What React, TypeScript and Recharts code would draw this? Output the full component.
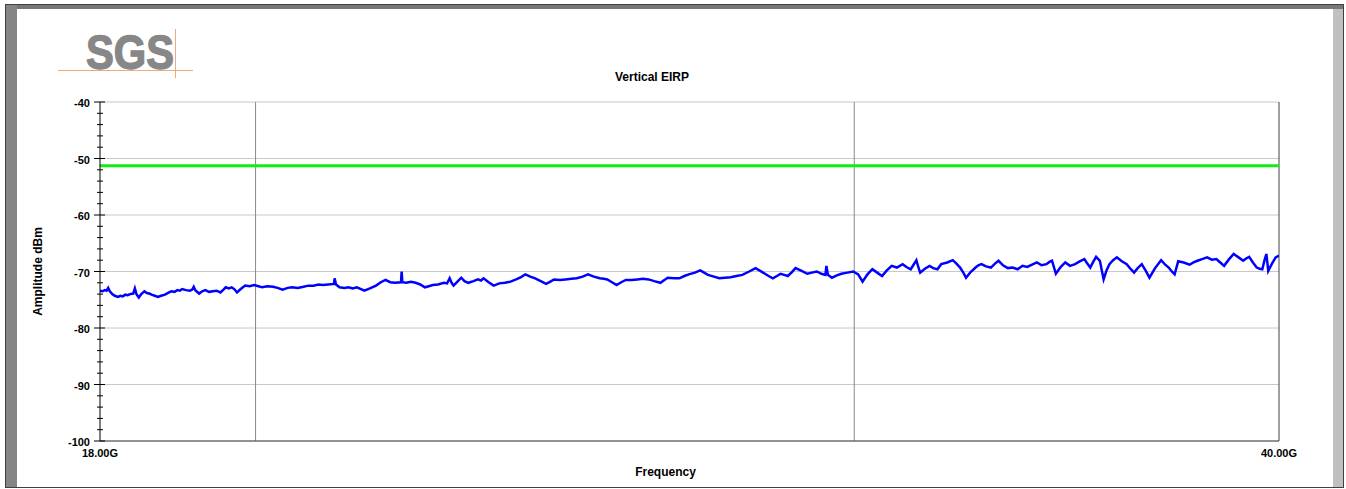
import { LineChart, Line, XAxis, YAxis, CartesianGrid, ReferenceLine } from "recharts";

// Measured sweep, 18 – 40 GHz (frequency in GHz)
const traceFreqs = [
  18.0, 18.03, 18.06, 18.08, 18.1, 18.12, 18.15, 18.18, 18.22, 18.25,
  18.28, 18.31, 18.34, 18.37, 18.41, 18.43, 18.45, 18.48, 18.51, 18.55,
  18.58, 18.61, 18.64, 18.68, 18.72, 18.76, 18.81, 18.85, 18.89, 18.93,
  18.97, 19.0, 19.03, 19.08, 19.13, 19.16, 19.18, 19.2, 19.25, 19.29,
  19.33, 19.38, 19.43, 19.48, 19.53, 19.57, 19.6, 19.64, 19.68, 19.72,
  19.75, 19.8, 19.86, 19.92, 19.98, 20.04, 20.09, 20.16, 20.24, 20.3,
  20.37, 20.44, 20.5, 20.58, 20.66, 20.73, 20.8, 20.87, 20.93, 21.01,
  21.09, 21.1, 21.12, 21.17, 21.24, 21.3, 21.36, 21.42, 21.48, 21.53,
  21.61, 21.7, 21.77, 21.84, 21.91, 21.98, 22.07, 22.08, 22.09, 22.15,
  22.22, 22.29, 22.36, 22.43, 22.49, 22.55, 22.63, 22.72, 22.77, 22.81,
  22.84, 22.87, 22.93, 22.99, 23.04, 23.1, 23.18, 23.25, 23.3, 23.34,
  23.42, 23.5, 23.59, 23.68, 23.77, 23.86, 23.94, 24.01, 24.09, 24.17,
  24.26, 24.35, 24.42, 24.48, 24.58, 24.67, 24.77, 24.86, 24.96, 25.05,
  25.15, 25.25, 25.32, 25.38, 25.46, 25.54, 25.62, 25.7, 25.8, 25.9,
  26.0, 26.1, 26.2, 26.31, 26.38, 26.44, 26.55, 26.65, 26.74, 26.82,
  26.93, 27.03, 27.1, 27.17, 27.28, 27.38, 27.48, 27.59, 27.7, 27.81,
  27.94, 28.06, 28.15, 28.24, 28.31, 28.39, 28.47, 28.54, 28.61, 28.68,
  28.76, 28.83, 28.95, 29.06, 29.15, 29.25, 29.34, 29.42, 29.44, 29.47,
  29.55, 29.65, 29.74, 29.86, 29.98, 30.08, 30.17, 30.27, 30.37, 30.47,
  30.57, 30.67, 30.77, 30.88, 31.0, 31.08, 31.17, 31.23, 31.29, 31.33,
  31.37, 31.47, 31.57, 31.65, 31.74, 31.82, 31.95, 32.07, 32.15, 32.23,
  32.3, 32.36, 32.46, 32.57, 32.63, 32.7, 32.8, 32.91, 33.0, 33.08,
  33.18, 33.29, 33.4, 33.51, 33.62, 33.73, 33.84, 33.95, 34.06, 34.17,
  34.24, 34.3, 34.39, 34.5, 34.61, 34.72, 34.84, 34.95, 35.06, 35.13,
  35.2, 35.27, 35.34, 35.43, 35.52, 35.59, 35.66, 35.75, 35.84, 35.96,
  36.08, 36.17, 36.26, 36.35, 36.45, 36.55, 36.64, 36.78, 36.93, 37.02,
  37.12, 37.2, 37.27, 37.36, 37.5, 37.65, 37.75, 37.85, 37.97, 38.1,
  38.22, 38.34, 38.44, 38.54, 38.66, 38.79, 38.92, 39.04, 39.12, 39.2,
  39.3, 39.4, 39.48, 39.55, 39.61, 39.66, 39.71, 39.81, 39.91, 40.0,
];

// Measured level, dBm
const traceAmps = [
  -73.4, -73.5, -73.3, -73.4, -72.9, -73.5, -74.0, -74.3, -74.5, -74.3,
  -74.4, -74.1, -74.2, -74.0, -73.9, -73.0, -74.0, -74.6, -74.0, -73.5,
  -73.8, -73.9, -74.1, -74.3, -74.5, -74.3, -74.1, -73.8, -73.5, -73.6,
  -73.3, -73.4, -73.1, -73.3, -73.4, -73.2, -72.7, -73.3, -73.9, -73.5,
  -73.3, -73.6, -73.5, -73.4, -73.7, -73.2, -72.8, -73.0, -72.8, -73.2,
  -73.7, -73.1, -72.5, -72.6, -72.4, -72.6, -72.8, -72.6, -72.7, -72.9,
  -73.2, -72.9, -72.8, -72.9, -72.7, -72.5, -72.5, -72.3, -72.4, -72.3,
  -72.2, -71.2, -72.3, -72.8, -72.9, -72.8, -73.0, -72.8, -73.1, -73.4,
  -73.0, -72.5, -71.9, -71.5, -71.9, -72.0, -71.9, -70.0, -71.9, -72.0,
  -71.8, -72.0, -72.3, -72.8, -72.6, -72.4, -72.3, -72.0, -72.1, -71.2,
  -72.0, -72.5, -71.8, -71.1, -71.7, -72.0, -71.7, -71.4, -71.6, -71.2,
  -71.9, -72.5, -72.1, -72.0, -71.8, -71.4, -71.0, -70.5, -70.9, -71.2,
  -71.7, -72.2, -71.8, -71.4, -71.5, -71.4, -71.3, -71.2, -70.9, -70.5,
  -70.9, -71.2, -71.3, -71.4, -71.9, -72.4, -71.9, -71.5, -71.5, -71.4,
  -71.3, -71.4, -71.7, -72.0, -71.5, -71.1, -71.2, -71.2, -70.8, -70.5,
  -70.2, -69.8, -70.2, -70.6, -70.9, -71.2, -71.1, -71.0, -70.8, -70.6,
  -70.0, -69.4, -69.9, -70.4, -70.8, -71.2, -70.8, -70.4, -70.6, -70.8,
  -70.1, -69.4, -69.9, -70.4, -70.2, -70.0, -70.4, -70.6, -69.0, -70.6,
  -71.1, -70.7, -70.4, -70.2, -70.0, -70.5, -71.8, -70.5, -69.6, -70.2,
  -70.8, -69.8, -69.0, -69.3, -68.7, -69.2, -69.6, -68.8, -68.0, -69.2,
  -70.2, -69.5, -69.0, -69.4, -69.6, -68.7, -68.4, -68.0, -68.6, -69.3,
  -70.2, -71.1, -70.1, -69.3, -68.9, -68.7, -69.1, -69.3, -68.6, -68.1,
  -68.9, -69.4, -69.3, -69.6, -69.0, -69.2, -68.8, -68.4, -68.9, -68.7,
  -68.3, -68.1, -70.4, -69.2, -68.4, -69.0, -68.7, -68.2, -67.8, -68.6,
  -69.3, -68.3, -67.4, -68.1, -71.4, -69.8, -68.7, -68.0, -67.5, -68.2,
  -68.7, -69.5, -70.2, -69.4, -68.7, -69.9, -71.1, -69.4, -68.0, -68.7,
  -69.3, -70.0, -70.5, -68.2, -68.4, -68.8, -68.4, -68.1, -67.8, -67.5,
  -67.9, -67.8, -68.4, -69.0, -67.9, -66.9, -67.5, -68.1, -67.7, -67.4,
  -68.4, -69.3, -69.5, -69.6, -68.0, -66.9, -69.9, -68.6, -67.5, -67.2,
];

// Limit line
const limitFreqs = [18, 40];
const limitAmps = [-51.3, -51.3];

const yTicks = [
  -100, -98, -96, -94, -92, -90, -88, -86, -84, -82, -80, -78, -76, -74, -72,
  -70, -68, -66, -64, -62, -60, -58, -56, -54, -52, -50, -48, -46, -44, -42, -40,
];
const yMajorTicks = [-100, -90, -80, -70, -60, -50, -40];
const xTicks = [18, 20, 30, 40];
const xGridFreqs = [20, 30];
const xLabelFreqs = [18, 40];
const xTickLabels = ["18.00G", "40.00G"];

const traceData = traceFreqs.map((freq, i) => ({ freq, amp: traceAmps[i] }));
const limitData = limitFreqs.map((freq, i) => ({ freq, amp: limitAmps[i] }));

const FONT = "'Liberation Sans', Arial, sans-serif";

const YTick = (props: any) => {
  const { x, y, payload } = props;
  const major = yMajorTicks.includes(payload.value);
  return (
    <g>
      <line
        x1={major ? x - 6 : x - 3}
        x2={major ? x + 5 : x + 3}
        y1={y}
        y2={y}
        stroke="#000"
        strokeWidth={1}
      />
      {major && (
        <text x={x - 10} y={y + 5} textAnchor="end" fontFamily={FONT} fontSize={11} fontWeight="bold" fill="#000">
          {payload.value}
        </text>
      )}
    </g>
  );
};

const XTick = (props: any) => {
  const { x, y, payload } = props;
  const i = xLabelFreqs.indexOf(payload.value);
  if (i < 0) return <g />;
  return (
    <text x={x} y={y + 16} textAnchor="middle" fontFamily={FONT} fontSize={11} fontWeight="bold" fill="#000">
      {xTickLabels[i]}
    </text>
  );
};

export default function App() {
  return (
    <div style={{ position: "absolute", left: 0, top: 0, width: 1346, height: 489, background: "#fff", fontFamily: FONT }}>
      {/* window frame */}
      <div style={{ position: "absolute", left: 5, top: 4, width: 1339, height: 484, border: "1px solid #404040", boxSizing: "border-box" }} />
      <div style={{ position: "absolute", left: 6, top: 5, width: 1337, height: 4, background: "#777" }} />
      <div style={{ position: "absolute", left: 6, top: 5, width: 11, height: 482, background: "#858585" }} />
      <div style={{ position: "absolute", left: 1333, top: 9, width: 10, height: 478, background: "#c0c0c0" }} />

      {/* logo */}
      <svg style={{ position: "absolute", left: 0, top: 0 }} width={220} height={90}>
        <text
          x={86}
          y={69}
          fontFamily={FONT}
          fontSize={48}
          fontWeight="bold"
          fill="#878787"
          stroke="#878787"
          strokeWidth={1.4}
          textLength={88}
          lengthAdjust="spacingAndGlyphs"
        >
          SGS
        </text>
        <line x1={58} x2={193} y1={70.5} y2={70.5} stroke="#f2a878" strokeWidth={1} />
        <line x1={175.5} x2={175.5} y1={29} y2={78} stroke="#f2a878" strokeWidth={1} />
      </svg>

      <div style={{ position: "absolute", left: 0, top: 0 }}>
        <LineChart width={1346} height={489} margin={{ top: 102, right: 67, bottom: 12, left: 36 }}>
          <text x={652} y={81} textAnchor="middle" fontFamily={FONT} fontSize={12} fontWeight="bold" fill="#000">
            Vertical EIRP
          </text>
          <CartesianGrid horizontal={true} vertical={false} horizontalValues={yMajorTicks} stroke="#c8c8c8" />
          <CartesianGrid horizontal={false} vertical={true} verticalValues={xGridFreqs} stroke="#888" />
          <XAxis
            dataKey="freq"
            type="number"
            scale="log"
            domain={[18, 40]}
            allowDataOverflow
            ticks={xTicks}
            interval={0}
            height={36}
            tickSize={0}
            tickMargin={0}
            tickLine={false}
            axisLine={{ stroke: "#404040" }}
            tick={<XTick />}
            label={{ value: "Frequency", position: "insideBottom", offset: 1, dx: -24, fontFamily: FONT, fontSize: 12, fontWeight: "bold", fill: "#000" }}
          />
          <YAxis
            dataKey="amp"
            type="number"
            domain={[-100, -40]}
            allowDataOverflow
            ticks={yTicks}
            interval={0}
            width={64}
            tickSize={0}
            tickMargin={0}
            tickLine={false}
            axisLine={{ stroke: "#000" }}
            tick={<YTick />}
            label={{ value: "Amplitude dBm", angle: -90, position: "insideLeft", offset: 2, style: { textAnchor: "middle" }, fontFamily: FONT, fontSize: 12, fontWeight: "bold", fill: "#000" }}
          />
          <ReferenceLine x={40} stroke="#404040" />
          <Line data={limitData} dataKey="amp" stroke="#11ee11" strokeWidth={3} dot={false} isAnimationActive={false} />
          <Line data={traceData} dataKey="amp" stroke="#0000ff" strokeWidth={2.5} dot={false} isAnimationActive={false} />
        </LineChart>
      </div>
    </div>
  );
}
